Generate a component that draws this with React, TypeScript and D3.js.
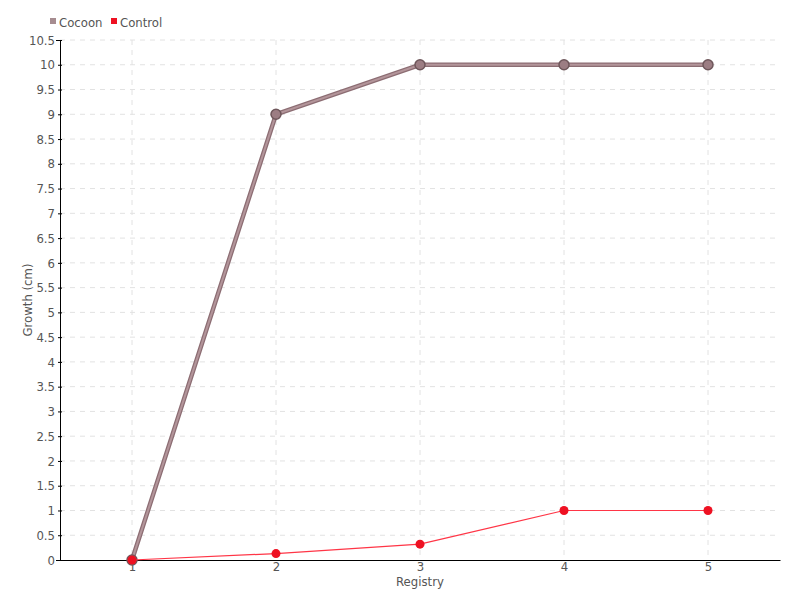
import React, { useEffect, useRef } from 'react';
import * as d3 from 'd3';

const registries = ['1', '2', '3', '4', '5'];
const cocoon = [0, 9, 10, 10, 10];
const control = [0, 0.13, 0.32, 1, 1];
const yTicks = d3.range(0, 10.51, 0.5);

const FONT = "'DejaVu Sans Condensed', 'DejaVu Sans', sans-serif";

export default function App() {
    const ref = useRef<SVGSVGElement>(null);

    useEffect(() => {
        if (!ref.current) return;
        const svg = d3.select(ref.current);
        svg.selectAll('*').remove();

        const margin = { top: 40, right: 20, bottom: 40, left: 60 };
        const width = 800 - margin.left - margin.right;
        const height = 600 - margin.top - margin.bottom;

        const x = d3.scalePoint<string>().domain(registries).range([0, width]).padding(0.5);
        const y = d3.scaleLinear().domain([0, 10.5]).range([height, 0]);

        const g = svg.append('g').attr('transform', `translate(${margin.left},${margin.top})`);

        // grid
        g.selectAll('.hgrid').data(yTicks.filter(t => t > 0)).enter().append('line')
            .attr('x1', 0).attr('x2', width)
            .attr('y1', d => y(d)).attr('y2', d => y(d))
            .attr('stroke', '#e2e2e2').attr('stroke-dasharray', '5,5');
        g.selectAll('.vgrid').data(registries).enter().append('line')
            .attr('x1', d => x(d)!).attr('x2', d => x(d)!)
            .attr('y1', 0).attr('y2', height)
            .attr('stroke', '#e2e2e2').attr('stroke-dasharray', '5,5');

        // axes
        const yAxis = g.append('g').call(
            d3.axisLeft(y).tickValues(yTicks).tickSize(4).tickFormat(d => String(d))
        );
        yAxis.select('.domain').attr('stroke', '#000');
        yAxis.selectAll('.tick line').attr('stroke', '#000').attr('x2', 2).attr('x1', -2);
        yAxis.selectAll('.tick text').attr('x', -5)
            .attr('font-family', FONT).attr('font-size', 13).attr('fill', '#555');

        const xAxis = g.append('g').attr('transform', `translate(0,${height})`).call(
            d3.axisBottom(x).tickSize(0).tickSizeOuter(0)
        );
        xAxis.select('.domain').attr('stroke', '#000');
        xAxis.selectAll('.tick line').remove();
        xAxis.selectAll('.tick text').attr('y', 2).attr('dy', '0.71em')
            .attr('font-family', FONT).attr('font-size', 13).attr('fill', '#555');

        // labels
        g.append('text').attr('x', width / 2).attr('y', height + 26)
            .attr('text-anchor', 'middle').attr('font-family', FONT).attr('font-size', 13)
            .attr('fill', '#555').text('Registry');
        g.append('text').attr('transform', `translate(${-28},${height / 2}) rotate(-90)`)
            .attr('text-anchor', 'middle').attr('font-family', FONT).attr('font-size', 13)
            .attr('fill', '#555').text('Growth (cm)');

        const line = d3.line<number>().x((_, i) => x(registries[i])!).y(d => y(d));

        // cocoon
        g.append('path').datum(cocoon).attr('d', line).attr('fill', 'none')
            .attr('stroke', '#8c6d73').attr('stroke-width', 4.5);
        g.append('path').datum(cocoon).attr('d', line).attr('fill', 'none')
            .attr('stroke', '#b3959a').attr('stroke-width', 2);
        g.selectAll('.cdot').data(cocoon).enter().append('circle')
            .attr('cx', (_, i) => x(registries[i])!).attr('cy', d => y(d)).attr('r', 5)
            .attr('fill', '#9c7d83').attr('stroke', '#6f575b').attr('stroke-width', 1.5);

        // control
        g.append('path').datum(control).attr('d', line).attr('fill', 'none')
            .attr('stroke', '#ff3546').attr('stroke-width', 1.2);
        g.selectAll('.kdot').data(control).enter().append('circle')
            .attr('cx', (_, i) => x(registries[i])!).attr('cy', d => y(d)).attr('r', 4.5)
            .attr('fill', '#ee1122');

        // legend
        const legend = svg.append('g').attr('transform', 'translate(50,22)');
        const items = [
            { name: 'Cocoon', color: '#a68c90', x: 0 },
            { name: 'Control', color: '#ee1122', x: 61 },
        ];
        items.forEach(it => {
            legend.append('rect').attr('x', it.x).attr('y', -4).attr('width', 6).attr('height', 6)
                .attr('fill', it.color);
            legend.append('text').attr('x', it.x + 9).attr('y', 0).attr('dy', '0.35em')
                .attr('font-family', FONT).attr('font-size', 13).attr('fill', '#555').text(it.name);
        });
    }, []);

    return (
        <svg ref={ref} width={800} height={600}
            style={{ position: 'absolute', left: 0, top: 0, background: '#fff' }} />
    );
}
